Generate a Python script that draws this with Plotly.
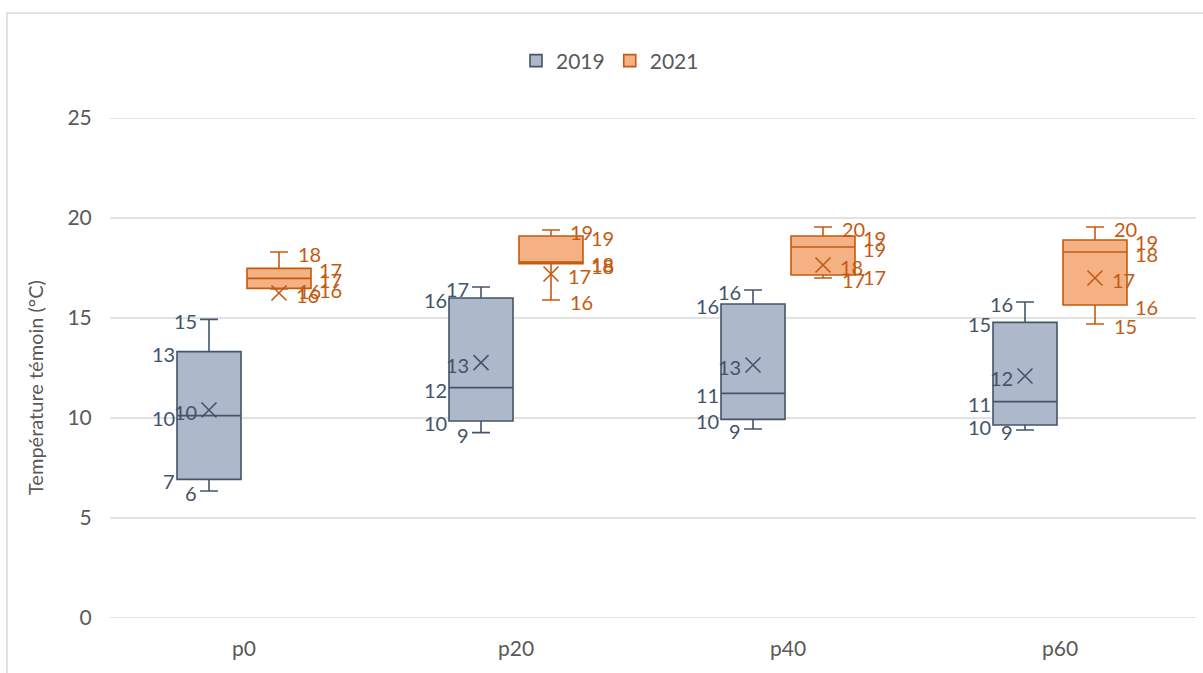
import plotly.graph_objects as go

# Catégories et statistiques (°C)
categories = ["p0", "p20", "p40", "p60"]

min_2019 = [6.35, 9.27, 9.45, 9.40]
q1_2019 = [6.93, 9.85, 9.93, 9.65]
median_2019 = [10.12, 11.52, 11.23, 10.82]
q3_2019 = [13.32, 16.00, 15.70, 14.78]
max_2019 = [14.93, 16.55, 16.40, 15.80]
mean_2019 = [10.40, 12.77, 12.65, 12.10]

min_2021 = [16.45, 15.90, 17.00, 14.70]
q1_2021 = [16.48, 17.72, 17.15, 15.65]
median_2021 = [16.98, 17.80, 18.55, 18.30]
q3_2021 = [17.48, 19.10, 19.10, 18.90]
max_2021 = [18.30, 19.40, 19.55, 19.55]
mean_2021 = [16.25, 17.20, 17.65, 17.00]

y_ticks = [0, 5, 10, 15, 20, 25]

# Mise en page (pixels)
W, H = 1203, 673
ML, MR, MT, MB = 108, 7, 118, 55
PLOT_W = W - ML - MR
PLOT_H = H - MT - MB
CAT_PX = PLOT_W / len(categories)
BOX_PX = 64
OFFSET_PX = 35

FONT = "Lato"
GREY = "#595959"
GRID = "#D9D9D9"
SERIES = {
    "2019": dict(fill="#ADB9CA", line="#44546A", side=-1),
    "2021": dict(fill="#F4B183", line="#C55A11", side=1),
}


def px(n):
    """Pixel distance expressed in x data units."""
    return n / CAT_PX


def label(v):
    return str(int(v + 0.5))


fig = go.Figure()
annotations = []
shapes = []

# quadrillage horizontal (y compris 0 et 25)
for t in y_ticks:
    shapes.append(dict(type="line", xref="paper", yref="y", x0=0.002, x1=1,
                       y0=t, y1=t, line=dict(color=GRID, width=1.5),
                       layer="below"))

data = {
    "2019": (min_2019, q1_2019, median_2019, q3_2019, max_2019, mean_2019),
    "2021": (min_2021, q1_2021, median_2021, q3_2021, max_2021, mean_2021),
}

for name, (mn, q1, med, q3, mx, mean) in data.items():
    st = SERIES[name]
    side = st["side"]
    xs = [i + side * px(OFFSET_PX) for i in range(len(categories))]
    fig.add_trace(go.Box(
        name=name, x=xs, q1=q1, median=med, q3=q3,
        lowerfence=mn, upperfence=mx,
        width=px(BOX_PX), whiskerwidth=0.28,
        fillcolor=st["fill"], line=dict(color=st["line"], width=1.6),
        boxpoints=False, hoverinfo="skip",
    ))
    fig.add_trace(go.Scatter(
        x=xs, y=mean, mode="markers", showlegend=False, hoverinfo="skip",
        marker=dict(symbol="x-thin", size=15,
                    line=dict(color=st["line"], width=1.6)),
    ))

    # étiquettes de données
    anchor = "right" if side < 0 else "left"
    box_dx = -32 if side < 0 else 38
    wh_dx = -10 if side < 0 else 17
    mean_dx = -10 if side < 0 else 15
    for i, xc in enumerate(xs):
        items = [
            (mx[i], wh_dx), (q3[i], box_dx), (med[i], box_dx),
            (q1[i], box_dx), (mn[i], wh_dx), (mean[i], mean_dx),
        ]
        for v, dx in items:
            annotations.append(dict(
                x=xc, y=v, xref="x", yref="y", text=label(v),
                showarrow=False, xanchor=anchor, yanchor="middle",
                xshift=dx, yshift=-2,
                font=dict(family=FONT, size=20, color=st["line"]),
            ))

# titre de l'axe vertical
annotations.append(dict(
    x=(35 - ML) / PLOT_W, y=(618 - 388) / PLOT_H, xref="paper", yref="paper",
    text="Température témoin (°C)", textangle=-90, showarrow=False,
    xanchor="center", yanchor="middle",
    font=dict(family=FONT, size=20, color=GREY),
))

# cadre du graphique
shapes.append(dict(type="rect", xref="paper", yref="paper",
                   x0=(7 - ML) / PLOT_W, x1=(W + 20 - ML) / PLOT_W,
                   y0=(618 - H - 20) / PLOT_H, y1=(618 - 13) / PLOT_H,
                   line=dict(color=GRID, width=1.5),
                   fillcolor="rgba(0,0,0,0)", layer="below"))

fig.update_layout(
    width=W, height=H,
    margin=dict(l=ML, r=MR, t=MT, b=MB),
    paper_bgcolor="white", plot_bgcolor="white",
    font=dict(family=FONT, color=GREY),
    boxmode="overlay",
    showlegend=True,
    legend=dict(
        orientation="h", x=(516 - ML) / PLOT_W, y=(618 - 61) / PLOT_H,
        xanchor="left", yanchor="middle",
        font=dict(family=FONT, size=21, color=GREY),
        bgcolor="rgba(0,0,0,0)",
    ),
    xaxis=dict(
        range=[-0.5, len(categories) - 0.5],
        tickvals=list(range(len(categories))), ticktext=categories,
        showgrid=False, zeroline=False, showline=False,
        ticks="outside", ticklen=12, tickcolor="rgba(0,0,0,0)",
        tickfont=dict(family=FONT, size=21, color=GREY),
    ),
    yaxis=dict(
        range=[0, 25], tickvals=y_ticks,
        showgrid=False, zeroline=False, showline=False,
        ticks="outside", ticklen=11, tickcolor="rgba(0,0,0,0)",
        tickfont=dict(family=FONT, size=21, color=GREY),
    ),
    annotations=annotations,
    shapes=shapes,
)

fig.write_html("out.html")
